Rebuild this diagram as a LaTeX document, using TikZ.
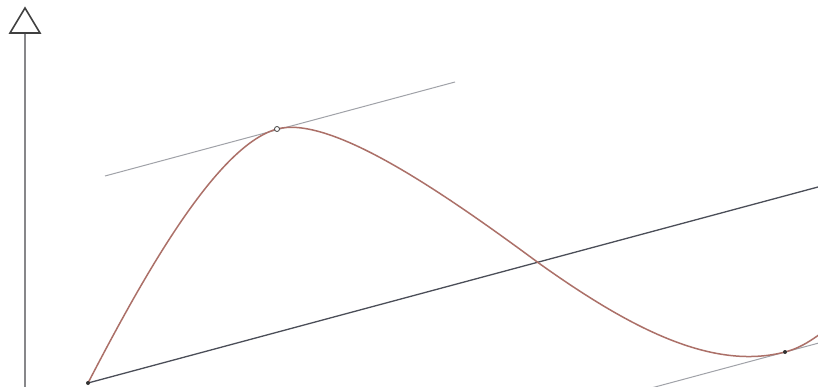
\documentclass[tikz,border=0pt]{standalone}
\usetikzlibrary{arrows.meta}
\definecolor{curvec}{RGB}{172,112,104}
\definecolor{secc}{RGB}{75,78,88}
\definecolor{tanc}{RGB}{160,162,168}
\definecolor{axisc}{RGB}{135,135,138}
\begin{document}
\begin{tikzpicture}[x=1pt,y=-1pt,
  axisline/.style={draw=axisc,line width=2.4pt},
  tipshape/.style={draw=black!75,line width=1.6pt,fill=white,line join=miter},
  secline/.style={draw=secc,line width=1.3pt},
  tanline/.style={draw=tanc,line width=1pt},
  curveline/.style={draw=curvec,line width=1.5pt},
  dotmark/.style={circle,fill=black!80,inner sep=0pt,minimum size=4pt},
  ringmark/.style={circle,draw=black!75,fill=white,line width=0.8pt,inner sep=0pt,minimum size=5pt}]
\useasboundingbox (0,0) rectangle (818,387);
\fill[white] (0,0) rectangle (818,387);
\begin{scope}
\clip (0,0) rectangle (818,387);
% axis
\coordinate (axbot) at (25,395);
\coordinate (axtop) at (25,33);
\draw[axisline] (axbot) -- (axtop);
\coordinate (tipL) at (10,33);
\coordinate (tipR) at (40,33);
\coordinate (tipA) at (25,8);
\draw[tipshape] (tipL) -- (tipA) -- (tipR) -- cycle;
% key points
\coordinate (A) at (88,383);
\coordinate (B) at (818,187);
\coordinate (P) at (277,129);
\coordinate (M) at (540,264);
\coordinate (Q) at (785,352);
\coordinate (E) at (840,318);
% tangents
\coordinate (t1a) at (105,176);
\coordinate (t1b) at (455,82);
\draw[tanline] (t1a) -- (t1b);
\coordinate (t2a) at (640,391);
\coordinate (t2b) at (830,340);
\draw[tanline] (t2a) -- (t2b);
% secant
\draw[secline] (A) -- (B);
% curve
\draw[curveline] (A) .. controls (140,283) and (215,146) .. (P)
  .. controls (330,115) and (440,190) .. (M)
  .. controls (630,328) and (712,371) .. (Q)
  .. controls (805,347) and (822,333) .. (E);
\end{scope}
\node[dotmark] (dA) at (A) {};
\node[ringmark] (dP) at (P) {};
\node[dotmark] (dQ) at (Q) {};
\end{tikzpicture}
\end{document}
